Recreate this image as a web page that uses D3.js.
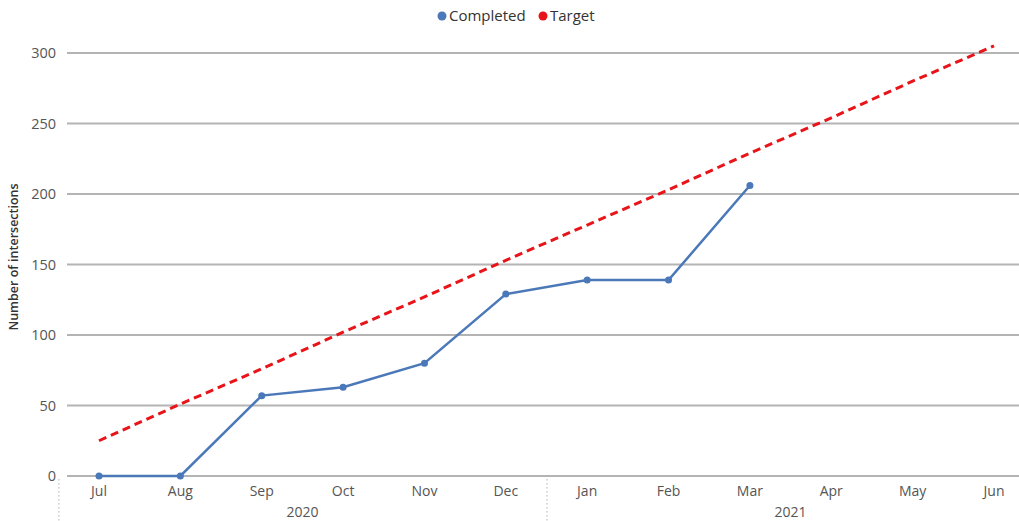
<!DOCTYPE html>
<html><head><meta charset="utf-8">
<script src="https://cdn.jsdelivr.net/npm/d3@7"></script>
<style>body{margin:0;background:#fff}svg{display:block;font-family:"Open Sans","Noto Sans",sans-serif}</style>
</head><body><svg id="c" width="1019" height="521"></svg>
<script>
const months = ["Jul","Aug","Sep","Oct","Nov","Dec","Jan","Feb","Mar","Apr","May","Jun"];
const years = [{label:"2020", from:"Jul", to:"Dec"},{label:"2021", from:"Jan", to:"Jun"}];
const completed = [0,0,57,63,80,129,139,139,206];
const target = [25,51,76,102,127,153,178,203,229,254,280,305];
const yTicks = [0,50,100,150,200,250,300];

const svg = d3.select("#c");
const x = d3.scalePoint().domain(months).range([99,994]);
const y = d3.scaleLinear().domain([0,300]).range([476,53]);
const step = x.step();

// gridlines
svg.append("g").selectAll("line").data(yTicks).join("line")
  .attr("x1",67).attr("x2",1019).attr("y1",d=>y(d)).attr("y2",d=>y(d))
  .attr("stroke","#b4b4b4").attr("stroke-width",2);

// y labels
svg.append("g").selectAll("text").data(yTicks).join("text")
  .attr("x",56).attr("y",d=>y(d)).attr("dy","0.35em").attr("text-anchor","end")
  .attr("fill","#555").attr("font-size",14.5).text(d=>d);

svg.append("text").attr("transform","translate(18,257) rotate(-90)")
  .attr("text-anchor","middle").attr("fill","#333").attr("font-size",12.5).attr("font-weight",600)
  .text("Number of intersections");

// x labels
svg.append("g").selectAll("text").data(months).join("text")
  .attr("x",d=>x(d)).attr("y",496).attr("text-anchor","middle")
  .attr("fill","#555").attr("font-size",14).text(d=>d);

// year separators
svg.append("g").selectAll("line").data(years).join("line")
  .attr("x1",d=>x(d.from)-step/2+0.5).attr("x2",d=>x(d.from)-step/2+0.5)
  .attr("y1",479).attr("y2",521).attr("stroke","#ccc").attr("stroke-width",1.5).attr("stroke-dasharray","1.5,2.5");
svg.append("g").selectAll("text").data(years).join("text")
  .attr("x",d=>(x(d.from)+x(d.to))/2).attr("y",517).attr("text-anchor","middle")
  .attr("fill","#555").attr("font-size",14).text(d=>d.label);

// target
const tline = d3.line().x((d,i)=>x(months[i])).y(d=>y(d));
svg.append("path").datum(target).attr("d",tline).attr("fill","none")
  .attr("stroke","#e8141a").attr("stroke-width",3).attr("stroke-dasharray","8,5");

// completed
svg.append("path").datum(completed).attr("d",tline).attr("fill","none")
  .attr("stroke","#4a78b8").attr("stroke-width",2.5);
svg.append("g").selectAll("circle").data(completed).join("circle")
  .attr("cx",(d,i)=>x(months[i])).attr("cy",d=>y(d)).attr("r",3.5).attr("fill","#4a78b8");

// legend
const leg = [{n:"Completed",c:"#4a78b8",x:442},{n:"Target",c:"#e8141a",x:543}];
const lg = svg.append("g").selectAll("g").data(leg).join("g");
lg.append("circle").attr("cx",d=>d.x).attr("cy",16).attr("r",4.5).attr("fill",d=>d.c);
lg.append("text").attr("x",d=>d.x+7).attr("y",16).attr("dy","0.35em").attr("fill","#333").attr("font-size",15).text(d=>d.n);
</script></body></html>
